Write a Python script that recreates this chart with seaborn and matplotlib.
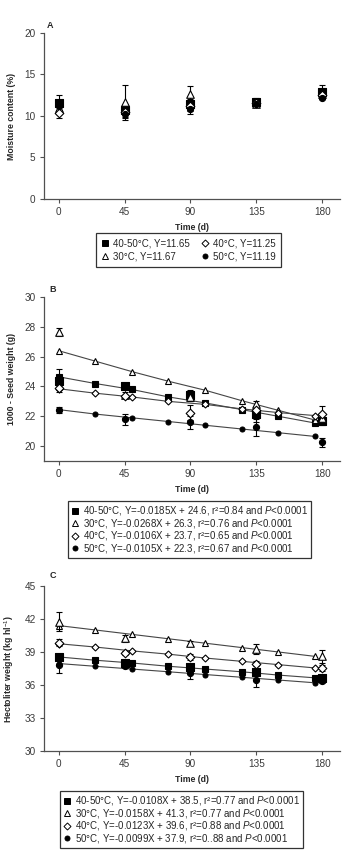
import matplotlib
matplotlib.use("Agg")
import matplotlib.pyplot as plt
import seaborn as sns
import pandas as pd
from matplotlib.lines import Line2D
from matplotlib import font_manager

# ---------------- data ----------------
days = [0, 45, 90, 135, 180]
fit_days = [0, 25, 50, 75, 100, 125, 150, 175]
series = ["40-50°C", "30°C", "40°C", "50°C"]

# Panel A: moisture content (%)
a_4050 = [11.6, 10.7, 11.5, 11.7, 12.9]
a_4050_err = [0.9, 0.4, 0.5, 0.5, 0.8]
a_30 = [11.0, 11.7, 12.6, 11.5, 12.6]
a_30_err = [0.7, 2.0, 1.0, 0.4, 0.5]
a_40 = [10.4, 10.5, 11.2, 11.6, 12.5]
a_40_err = [0.7, 0.6, 0.6, 0.4, 0.4]
a_50 = [11.2, 10.3, 10.9, 11.5, 12.2]
a_50_err = [0.5, 0.8, 0.7, 0.4, 0.2]

# Panel B: 1000-seed weight (g)
b_4050 = [24.4, 24.05, 23.4, 22.15, 21.7]
b_4050_err = [0.75, 0.2, 0.35, 0.55, 0.25]
b_30 = [27.65, 23.45, 23.3, 22.85, 21.9]
b_30_err = [0.25, 0.15, 0.3, 0.2, 0.2]
b_40 = [23.9, 23.35, 22.25, 22.45, 22.15]
b_40_err = [0.1, 0.1, 0.5, 0.2, 0.55]
b_50 = [22.45, 21.8, 21.6, 21.25, 20.25]
b_50_err = [0.2, 0.35, 0.45, 0.6, 0.28]
fb_4050 = [24.65, 24.2, 23.8, 23.3, 22.9, 22.45, 22.0, 21.55]
fb_30 = [26.4, 25.7, 25.0, 24.35, 23.75, 23.05, 22.4, 21.75]
fb_40 = [23.85, 23.55, 23.3, 23.0, 22.8, 22.5, 22.25, 22.05]
fb_50 = [22.45, 22.15, 21.9, 21.65, 21.4, 21.15, 20.9, 20.65]

# Panel C: hectoliter weight (kg hl-1)
c_4050 = [38.55, 38.0, 37.6, 37.2, 36.6]
c_4050_err = [0.2, 0.15, 0.15, 0.2, 0.2]
c_30 = [41.75, 40.25, 39.8, 39.3, 38.6]
c_30_err = [0.85, 0.3, 0.2, 0.45, 0.6]
c_40 = [39.85, 38.9, 38.55, 37.95, 37.55]
c_40_err = [0.35, 0.15, 0.25, 0.2, 0.3]
c_50 = [37.85, 37.75, 37.05, 36.45, 36.35]
c_50_err = [0.75, 0.25, 0.5, 0.65, 0.2]
fc_4050 = [38.55, 38.25, 38.0, 37.7, 37.45, 37.2, 36.9, 36.65]
fc_30 = [41.4, 41.0, 40.6, 40.2, 39.8, 39.4, 39.0, 38.6]
fc_40 = [39.75, 39.45, 39.1, 38.8, 38.45, 38.15, 37.85, 37.55]
fc_50 = [37.95, 37.7, 37.45, 37.2, 36.95, 36.7, 36.45, 36.2]

legend_a = ["40-50°C, Y=11.65", "30°C, Y=11.67", "40°C, Y=11.25", "50°C, Y=11.19"]
legend_b = [
    "40-50°C, Y=-0.0185X + 24.6, r²=0.84 and $\\mathit{P}$<0.0001",
    "30°C, Y=-0.0268X + 26.3, r²=0.76 and $\\mathit{P}$<0.0001",
    "40°C, Y=-0.0106X + 23.7, r²=0.65 and $\\mathit{P}$<0.0001",
    "50°C, Y=-0.0105X + 22.3, r²=0.67 and $\\mathit{P}$<0.0001",
]
legend_c = [
    "40-50°C, Y=-0.0108X + 38.5, r²=0.77 and $\\mathit{P}$<0.0001",
    "30°C, Y=-0.0158X + 41.3, r²=0.77 and $\\mathit{P}$<0.0001",
    "40°C, Y=-0.0123X + 39.6, r²=0.88 and $\\mathit{P}$<0.0001",
    "50°C, Y=-0.0099X + 37.9, r²=0..88 and $\\mathit{P}$<0.0001",
]

# ---------------- style ----------------
sns.set_style("ticks")
names = {f.name for f in font_manager.fontManager.ttflist}
fam = "Liberation Sans Narrow" if "Liberation Sans Narrow" in names else "Liberation Sans"
plt.rcParams["font.family"] = [fam, "DejaVu Sans"]
plt.rcParams["mathtext.fontset"] = "custom"
plt.rcParams["mathtext.rm"] = fam
plt.rcParams["mathtext.it"] = fam + ":italic"
plt.rcParams["mathtext.bf"] = fam + ":bold"

styles = {
    "40-50°C": dict(marker="s", fc="black", ms=5.2),
    "30°C": dict(marker="^", fc="white", ms=5.2),
    "40°C": dict(marker="D", fc="white", ms=4.2),
    "50°C": dict(marker="o", fc="black", ms=4.2),
}
GRAY = "#505050"

fig = plt.figure(figsize=(3.42, 8.64), dpi=100)
W = 0.865
L = 0.1287
axA = fig.add_axes([L, 0.7697, W, 0.1921])
axB = fig.add_axes([L, 0.4664, W, 0.1898])
axC = fig.add_axes([L, 0.1308, W, 0.1910])


def draw_points(ax, vals, errs):
    for name, v, e in zip(series, vals, errs):
        st = styles[name]
        ax.errorbar(days, v, yerr=e, fmt="none", ecolor="black", elinewidth=0.8,
                    capsize=2.0, capthick=0.8, zorder=3)
        df = pd.DataFrame({"Time": days, "Value": v})
        sns.scatterplot(data=df, x="Time", y="Value", ax=ax, marker=st["marker"],
                        color=st["fc"], edgecolor="black", linewidth=0.8,
                        s=st["ms"] ** 2 * 1.1, zorder=4, legend=False)


def draw_fits(ax, fits):
    for name, f in zip(series, fits):
        st = styles[name]
        df = pd.DataFrame({"Time": fit_days, "Value": f})
        sns.lineplot(data=df, x="Time", y="Value", ax=ax, color="#454545", linewidth=0.8,
                     marker=st["marker"], markerfacecolor=st["fc"], markeredgecolor="black",
                     markeredgewidth=0.8, markersize=st["ms"] * 0.85, zorder=2, legend=False)


def style_axes(ax, ylim, yticks, ylabel):
    ax.set_xlim(-10, 192)
    ax.set_ylim(*ylim)
    ax.set_xticks(days)
    ax.set_yticks(yticks)
    ax.tick_params(axis="both", labelsize=7.2, colors=GRAY, labelcolor="#3a3a3a",
                   length=3, width=0.8, pad=3)
    for sp in ["left", "bottom"]:
        ax.spines[sp].set_color(GRAY)
        ax.spines[sp].set_linewidth(0.9)
    sns.despine(ax=ax)
    ax.set_xlabel("Time (d)", fontsize=6.3, fontweight="bold", labelpad=4)
    ax.set_ylabel(ylabel, fontsize=6.3, fontweight="bold", labelpad=6)


def make_legend(labels, ncol, anchor, spacing, pad):
    handles = []
    for name in series:
        st = styles[name]
        handles.append(Line2D([], [], linestyle="none", marker=st["marker"],
                              markerfacecolor=st["fc"], markeredgecolor="black",
                              markeredgewidth=0.7, markersize=st["ms"] * 0.85))
    leg = fig.legend(handles, labels, ncol=ncol, loc="upper left", bbox_to_anchor=anchor,
                     bbox_transform=fig.transFigure, fontsize=7, frameon=True, fancybox=False,
                     handlelength=0.8, handletextpad=0.4, columnspacing=1.2,
                     labelspacing=spacing, borderpad=pad, borderaxespad=0)
    fr = leg.get_frame()
    fr.set_edgecolor("black")
    fr.set_linewidth(0.9)
    return leg


# Panel A
draw_points(axA, [a_4050, a_30, a_40, a_50], [a_4050_err, a_30_err, a_40_err, a_50_err])
style_axes(axA, (0, 20), [0, 5, 10, 15, 20], "Moisture content (%)")

# Panel B
draw_fits(axB, [fb_4050, fb_30, fb_40, fb_50])
draw_points(axB, [b_4050, b_30, b_40, b_50], [b_4050_err, b_30_err, b_40_err, b_50_err])
style_axes(axB, (19, 30), [20, 22, 24, 26, 28, 30], "1000 - Seed weight (g)")

# Panel C
draw_fits(axC, [fc_4050, fc_30, fc_40, fc_50])
draw_points(axC, [c_4050, c_30, c_40, c_50], [c_4050_err, c_30_err, c_40_err, c_50_err])
style_axes(axC, (30, 45), [30, 33, 36, 39, 42, 45], "Hectoliter weight (kg hl$^{-1}$)")

fig.text(50 / 342, 1 - 25 / 864, "A", fontsize=6.5, fontweight="bold", va="center", ha="center")
fig.text(53 / 342, 1 - 290 / 864, "B", fontsize=6.5, fontweight="bold", va="center", ha="center")
fig.text(53 / 342, 1 - 576 / 864, "C", fontsize=6.5, fontweight="bold", va="center", ha="center")

make_legend(legend_a, 2, (96 / 342, 1 - 233 / 864), 0.3, 0.55)
make_legend(legend_b, 1, (68 / 342, 1 - 501 / 864), -0.05, 0.35)
make_legend(legend_c, 1, (60 / 342, 1 - 791 / 864), -0.05, 0.35)

fig.savefig("out.png", dpi=100)
